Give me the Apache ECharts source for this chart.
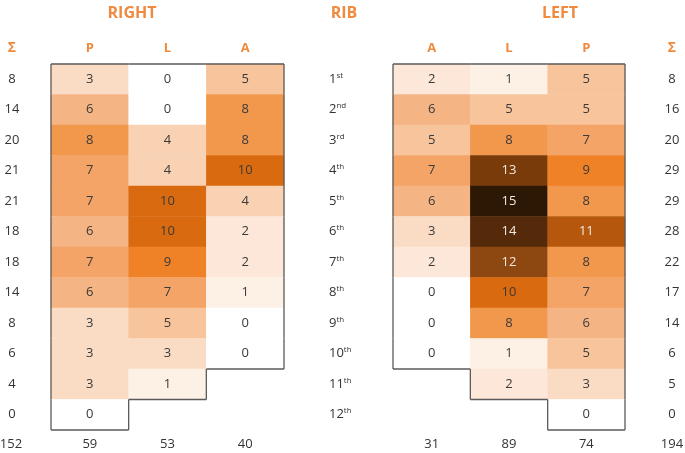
<!DOCTYPE html>
<html>
<head>
<meta charset="utf-8">
<script src="https://cdn.jsdelivr.net/npm/echarts@6/dist/echarts.min.js"></script>
<style>
  html, body { margin: 0; padding: 0; background: #fff; }
  #chart { width: 685px; height: 453px; }
</style>
</head>
<body>
<div id="chart"></div>
<script>
// rib rows, top to bottom
var ribNums = ['1', '2', '3', '4', '5', '6', '7', '8', '9', '10', '11', '12']
var ribSuffix = ['st', 'nd', 'rd', 'th', 'th', 'th', 'th', 'th', 'th', 'th', 'th', 'th']

// right side: columns P, L, A (null = no cell)
var rightCols = ['P', 'L', 'A']
var rightP = [3, 6, 8, 7, 7, 6, 7, 6, 3, 3, 3, 0]
var rightL = [0, 0, 4, 4, 10, 10, 9, 7, 5, 3, 1, null]
var rightA = [5, 8, 8, 10, 4, 2, 2, 1, 0, 0, null, null]
var rightRowSum = [8, 14, 20, 21, 21, 18, 18, 14, 8, 6, 4, 0]
var rightColSum = [59, 53, 40]
var rightTotal = 152

// left side: columns A, L, P
var leftCols = ['A', 'L', 'P']
var leftA = [2, 6, 5, 7, 6, 3, 2, 0, 0, 0, null, null]
var leftL = [1, 5, 8, 13, 15, 14, 12, 10, 8, 1, 2, null]
var leftP = [5, 5, 7, 9, 8, 11, 8, 7, 6, 5, 3, 0]
var leftRowSum = [8, 16, 20, 29, 29, 28, 22, 17, 14, 6, 5, 0]
var leftColSum = [31, 89, 74]
var leftTotal = 194

var scaleColors = ['#ffffff', '#fdf1e6', '#fce7d8', '#fadcc5', '#f9d1b3', '#f7c49c', '#f5b484', '#f3a466',
  '#f1984c', '#ef8226', '#da6a10', '#b5580d', '#8d4710', '#7a3b0b', '#552a0a', '#2c1805']

var orange = '#ef8a3e'
var font = 'Open Sans'

var G = [
  { left: 51, top: 64, width: 233, height: 366 },
  { left: 393, top: 64, width: 232, height: 366 }
]

function heatData (cols) {
  var out = []
  cols.forEach(function (arr, ci) {
    arr.forEach(function (v, ri) {
      if (v === null) return
      out.push({
        value: [ci, ri, v],
        label: { color: v >= 11 ? '#f2e9df' : '#3a3a3a' }
      })
    })
  })
  return out
}

// one item per cell, flags for which sides need the outline
function edgeData (cols) {
  function has (c, r) {
    return c >= 0 && c < cols.length && r >= 0 && r < cols[c].length && cols[c][r] !== null
  }
  var out = []
  cols.forEach(function (arr, ci) {
    arr.forEach(function (v, ri) {
      if (v === null) return
      out.push([ci, ri, has(ci - 1, ri) ? 0 : 1, has(ci + 1, ri) ? 0 : 1, has(ci, ri - 1) ? 0 : 1, has(ci, ri + 1) ? 0 : 1])
    })
  })
  return out
}

function renderEdges (params, api) {
  var c = api.coord([api.value(0), api.value(1)])
  var s = api.size([1, 1])
  var x0 = c[0] - s[0] / 2, x1 = c[0] + s[0] / 2
  var y0 = c[1] - s[1] / 2, y1 = c[1] + s[1] / 2
  var segs = []
  if (api.value(2)) segs.push([x0, y0, x0, y1])
  if (api.value(3)) segs.push([x1, y0, x1, y1])
  if (api.value(4)) segs.push([x0, y0, x1, y0])
  if (api.value(5)) segs.push([x0, y1, x1, y1])
  return {
    type: 'group',
    children: segs.map(function (p) {
      return {
        type: 'line',
        shape: { x1: p[0], y1: p[1], x2: p[2], y2: p[3] },
        style: { stroke: '#5a5a5a', lineWidth: 1.3 }
      }
    })
  }
}

var ribRich = {
  n: { fontFamily: font, fontSize: 13, color: '#333' },
  s: { fontFamily: font, fontSize: 8, color: '#333', verticalAlign: 'bottom', padding: [0, 0, 8, 0] }
}

function axisPair (gi, cols, colSum) {
  return [
    {
      type: 'category', gridIndex: gi, position: 'top', data: cols,
      axisLine: { show: false }, axisTick: { show: false }, splitLine: { show: false },
      axisLabel: { margin: 9, color: orange, fontWeight: 'bold', fontSize: 13, fontFamily: font }
    },
    {
      type: 'category', gridIndex: gi, position: 'bottom', data: colSum.map(String),
      axisLine: { show: false }, axisTick: { show: false }, splitLine: { show: false },
      axisLabel: { margin: 8, color: '#333', fontSize: 13, fontFamily: font }
    }
  ]
}

var rowIdx = ribNums.map(function (n, i) { return i })

var option = {
  backgroundColor: '#fff',
  animation: false,
  title: [
    { text: 'RIGHT', left: 127, top: 0, textAlign: 'center', textStyle: { color: orange, fontSize: 16, fontWeight: 'bold', fontFamily: font } },
    { text: 'RIB', left: 339, top: 0, textAlign: 'center', textStyle: { color: orange, fontSize: 16, fontWeight: 'bold', fontFamily: font } },
    { text: 'LEFT', left: 555, top: 0, textAlign: 'center', textStyle: { color: orange, fontSize: 16, fontWeight: 'bold', fontFamily: font } }
  ],
  grid: G,
  xAxis: axisPair(0, rightCols, rightColSum).concat(axisPair(1, leftCols, leftColSum)),
  yAxis: [
    {
      type: 'category', gridIndex: 0, inverse: true, position: 'left', data: rowIdx,
      axisLine: { show: false }, axisTick: { show: false }, splitLine: { show: false },
      axisLabel: {
        margin: 39, align: 'center', color: '#333', fontSize: 13, fontFamily: font,
        formatter: function (v, i) { return String(rightRowSum[i]) }
      }
    },
    {
      type: 'category', gridIndex: 0, inverse: true, position: 'right', data: rowIdx,
      axisLine: { show: false }, axisTick: { show: false }, splitLine: { show: false },
      axisLabel: {
        margin: 45, align: 'left', rich: ribRich,
        formatter: function (v, i) { return '{n|' + ribNums[i] + '}{s|' + ribSuffix[i] + '}' }
      }
    },
    {
      type: 'category', gridIndex: 1, inverse: true, position: 'right', data: rowIdx,
      axisLine: { show: false }, axisTick: { show: false }, splitLine: { show: false },
      axisLabel: {
        margin: 47, align: 'center', color: '#333', fontSize: 13, fontFamily: font,
        formatter: function (v, i) { return String(leftRowSum[i]) }
      }
    }
  ],
  visualMap: {
    type: 'continuous', show: false, min: 0, max: 15, dimension: 2,
    seriesIndex: [0, 1], inRange: { color: scaleColors }
  },
  graphic: [
    { type: 'text', x: 12, y: 48, style: { text: 'Σ', fill: orange, font: 'bold 14px "' + font + '"', textAlign: 'center', textVerticalAlign: 'middle' } },
    { type: 'text', x: 672, y: 48, style: { text: 'Σ', fill: orange, font: 'bold 14px "' + font + '"', textAlign: 'center', textVerticalAlign: 'middle' } },
    { type: 'text', x: 11, y: 444, style: { text: String(rightTotal), fill: '#333', font: '13px "' + font + '"', textAlign: 'center', textVerticalAlign: 'middle' } },
    { type: 'text', x: 672, y: 444, style: { text: String(leftTotal), fill: '#333', font: '13px "' + font + '"', textAlign: 'center', textVerticalAlign: 'middle' } }
  ],
  series: [
    {
      type: 'heatmap', xAxisIndex: 0, yAxisIndex: 0,
      data: heatData([rightP, rightL, rightA]),
      label: { show: true, fontSize: 13, fontFamily: font, formatter: function (p) { return p.value[2] } },
      itemStyle: { borderWidth: 0 }
    },
    {
      type: 'heatmap', xAxisIndex: 2, yAxisIndex: 2,
      data: heatData([leftA, leftL, leftP]),
      label: { show: true, fontSize: 13, fontFamily: font, formatter: function (p) { return p.value[2] } },
      itemStyle: { borderWidth: 0 }
    },
    {
      type: 'custom', xAxisIndex: 0, yAxisIndex: 0, silent: true, z: 5,
      data: edgeData([rightP, rightL, rightA]), renderItem: renderEdges
    },
    {
      type: 'custom', xAxisIndex: 2, yAxisIndex: 2, silent: true, z: 5,
      data: edgeData([leftA, leftL, leftP]), renderItem: renderEdges
    }
  ]
}

var chart = echarts.init(document.getElementById('chart'))
chart.setOption(option)
</script>
</body>
</html>
